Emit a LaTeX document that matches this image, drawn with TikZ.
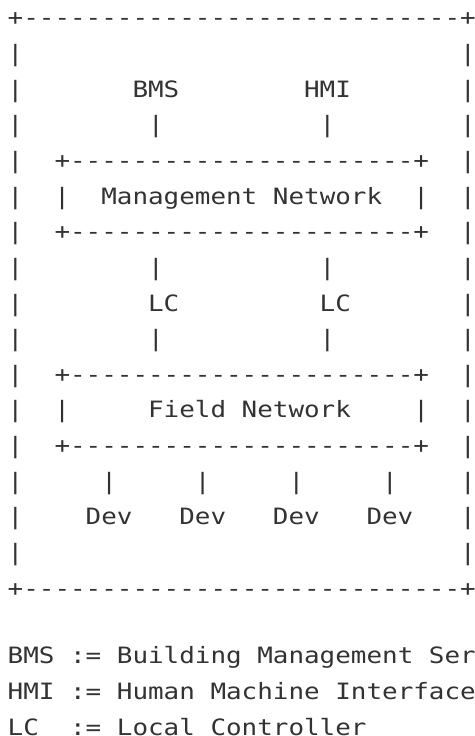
\documentclass[tikz,border=0pt]{standalone}
\usepackage{fontspec}
\setmonofont[FakeStretch=1.152]{DejaVu Sans Mono}
\definecolor{ink}{HTML}{333333}
\tikzset{
  asc/.style={anchor=base west, inner sep=0pt, outer sep=0pt, text=ink,
    font=\ttfamily\fontsize{22.5pt}{30pt}\selectfont},
  chr/.style={asc, anchor=base},
}
\newcommand{\zc}[1]{\makebox[0pt]{#1}}
\begin{document}
\begin{tikzpicture}
\useasboundingbox (0pt,0pt) rectangle (474pt,-736pt);
\fill[white] (0pt,0pt) rectangle (474pt,-736pt);
\begin{scope}[shift={(7.7pt,-25.8pt)}, x=15.6pt, y=-35.65pt]
  % outer frame
  \node[chr] (ftl) at (0.5,0) {\zc{+}};
  \node[asc] (frametop) at (1,0) {----------------------------};
  \node[chr] (ftr) at (29.5,0) {\zc{+}};
  \node[chr] (fbl) at (0.5,16) {\zc{+}};
  \node[asc] (framebot) at (1,16) {----------------------------};
  \node[chr] (fbr) at (29.5,16) {\zc{+}};
  \foreach \r in {1,...,15} {
    \node[chr] (fl\r) at (0.5,\r) {\zc{|}};
    \node[chr] (fr\r) at (29.5,\r) {\zc{|}};
  }
  % top labels
  \node[asc] (bms) at (8,2) {BMS};
  \node[asc] (hmi) at (19,2) {HMI};
  \node[chr] (c1) at (9.5,3) {\zc{|}};
  \node[chr] (c2) at (20.5,3) {\zc{|}};
  % management network box
  \node[asc] (mtop) at (3,4) {+----------------------+};
  \node[chr] (ml) at (3.5,5) {\zc{|}};
  \node[asc] (mgmt) at (6,5) {Management Network};
  \node[chr] (mr) at (26.5,5) {\zc{|}};
  \node[asc] (mbot) at (3,6) {+----------------------+};
  % local controllers
  \node[chr] (c3) at (9.5,7) {\zc{|}};
  \node[chr] (c4) at (20.5,7) {\zc{|}};
  \node[asc] (lc1) at (9,8) {LC};
  \node[asc] (lc2) at (20,8) {LC};
  \node[chr] (c5) at (9.5,9) {\zc{|}};
  \node[chr] (c6) at (20.5,9) {\zc{|}};
  % field network box
  \node[asc] (ftop) at (3,10) {+----------------------+};
  \node[chr] (fl) at (3.5,11) {\zc{|}};
  \node[asc] (field) at (9,11) {Field Network};
  \node[chr] (fr) at (26.5,11) {\zc{|}};
  \node[asc] (fbot) at (3,12) {+----------------------+};
  % devices
  \foreach \c/\n in {5/1,11/2,17/3,23/4} {
    \node[chr] (d\n) at (\c+1.5,13) {\zc{|}};
    \node[asc] (dev\n) at (\c,14) {Dev};
  }
\end{scope}
% legend
\begin{scope}[shift={(7.7pt,0pt)}, x=15.6pt, y=1pt]
  \node[asc] (lg1a) at (0,-663.5) {BMS};
  \node[asc] (lg1b) at (4,-663.5) {:=};
  \node[asc] (lg1c) at (7,-663.5) {Building Management Ser};
  \node[asc] (lg2a) at (0,-699.5) {HMI};
  \node[asc] (lg2b) at (4,-699.5) {:=};
  \node[asc] (lg2c) at (7,-699.5) {Human Machine Interface};
  \node[asc] (lg3a) at (0,-735) {LC};
  \node[asc] (lg3b) at (4,-735) {:=};
  \node[asc] (lg3c) at (7,-735) {Local Controller};
\end{scope}
\end{tikzpicture}
\end{document}
